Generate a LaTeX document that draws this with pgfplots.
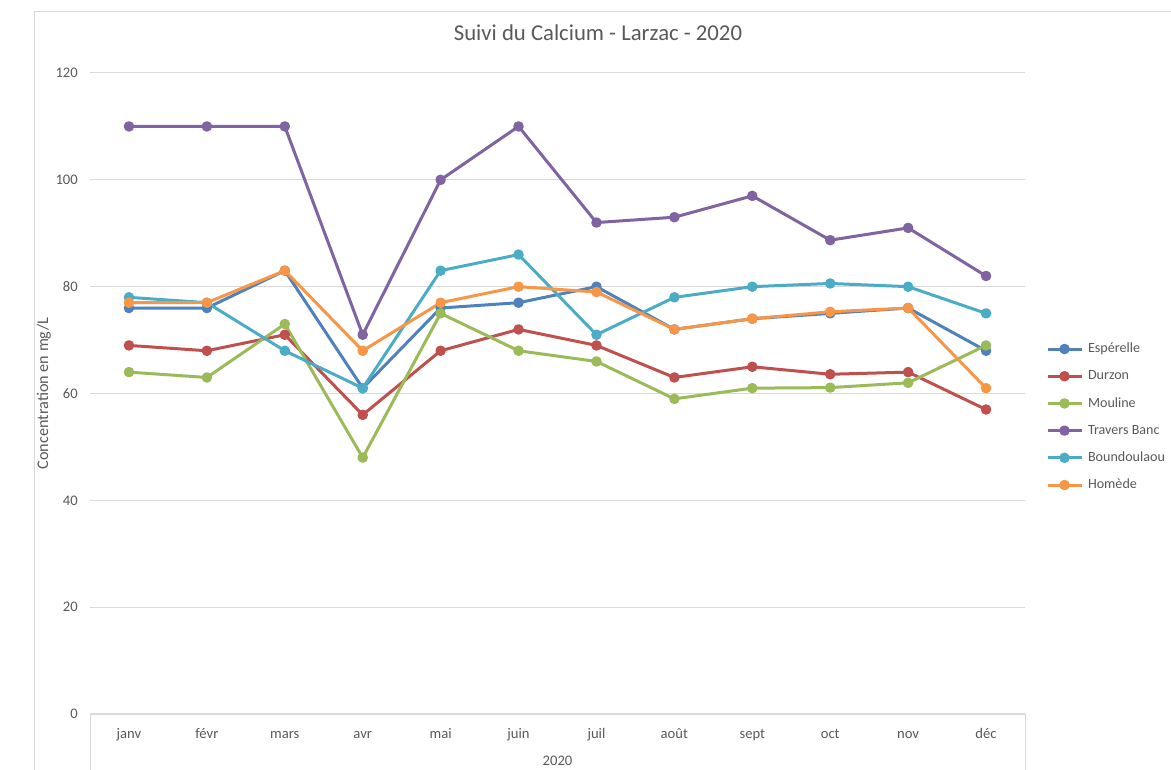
\documentclass[border=0pt]{standalone}
\usepackage{pgfplots}
\pgfplotsset{compat=1.18}
\usepackage{fontspec}
\setmainfont{Carlito}
\definecolor{cA}{HTML}{4F81BD}
\definecolor{cB}{HTML}{C0504D}
\definecolor{cC}{HTML}{9BBB59}
\definecolor{cD}{HTML}{8064A2}
\definecolor{cE}{HTML}{4BACC6}
\definecolor{cF}{HTML}{F79646}
\definecolor{txt}{HTML}{595959}
\definecolor{gridc}{HTML}{D9D9D9}
\begin{document}
\begin{tikzpicture}
\path[use as bounding box] (-67.5bp,-42bp) rectangle (810.75bp,535.5bp);
\draw[gridc, line width=0.75bp] (-41.25bp,-45bp) -- (-41.25bp,526.5bp) -- (815bp,526.5bp);
\begin{axis}[
  at={(0,0)}, anchor=south west,
  scale only axis, width=701.25bp, height=480.75bp,
  xmin=-0.5, xmax=11.5, ymin=0, ymax=120,
  ytick={0,20,...,120}, xtick={0,...,11},
  xticklabels={janv,févr,mars,avr,mai,juin,juil,août,sept,oct,nov,déc},
  axis line style={draw=none},
  major tick length=0pt,
  ymajorgrids, grid style={color=gridc, line width=0.75bp},
  tick label style={font=\fontsize{11}{13}\selectfont, text=txt},
  /pgf/number format/assume math mode=true,
  yticklabel style={anchor=east, inner sep=0pt, xshift=-9bp},
  xticklabel style={anchor=base, inner sep=0pt, yshift=-18.5bp},
  title={Suivi du Calcium - Larzac - 2020},
  title style={font=\fontsize{17.1}{19}\selectfont, text=txt, at={(axis description cs:0.5433,1.0499)}, anchor=center, inner sep=0pt},
  ylabel={Concentration en mg/L},
  ylabel style={font=\fontsize{12.2}{14}\selectfont, text=txt, at={(axis description cs:-0.0492,0.5)}, anchor=center, inner sep=0pt},
  xlabel={2020},
  xlabel style={font=\fontsize{11}{13}\selectfont, text=txt, at={(axis description cs:0.5,0)}, anchor=base, inner sep=0pt, yshift=-39bp},
  legend style={at={(axis description cs:1.0225,0.4633)}, anchor=west, draw=none, fill=none,
    inner sep=0pt, outer sep=0pt,
    font=\fontsize{10.6}{13}\selectfont, text=txt, row sep=9.9bp, column sep=3.75bp,
    nodes={inner sep=0pt, text height=8bp, text depth=2.5bp}},
  legend cell align=left,
  legend image code/.code={\draw[mark repeat=2,mark phase=2,#1] plot coordinates {(0bp,0bp)(12.75bp,0bp)(25.5bp,0bp)};},
  every axis plot/.append style={line width=2.25bp, line join=round, mark=*, mark size=2.8bp, mark options={solid, line width=0.75bp}},
  clip=false,
]
\addplot[cA, mark options={fill=cA}] coordinates {(0,76)(1,76)(2,83)(3,61)(4,76)(5,77)(6,80)(7,72)(8,74)(9,75)(10,76)(11,68)};
\addlegendentry{Espérelle}
\addplot[cB, mark options={fill=cB}] coordinates {(0,69)(1,68)(2,71)(3,56)(4,68)(5,72)(6,69)(7,63)(8,65)(9,63.6)(10,64)(11,57)};
\addlegendentry{Durzon}
\addplot[cC, mark options={fill=cC}] coordinates {(0,64)(1,63)(2,73)(3,48)(4,75)(5,68)(6,66)(7,59)(8,61)(9,61.1)(10,62)(11,69)};
\addlegendentry{Mouline}
\addplot[cD, mark options={fill=cD}] coordinates {(0,110)(1,110)(2,110)(3,71)(4,100)(5,110)(6,92)(7,93)(8,97)(9,88.7)(10,91)(11,82)};
\addlegendentry{Travers Banc}
\addplot[cE, mark options={fill=cE}] coordinates {(0,78)(1,77)(2,68)(3,61)(4,83)(5,86)(6,71)(7,78)(8,80)(9,80.6)(10,80)(11,75)};
\addlegendentry{Boundoulaou}
\addplot[cF, mark options={fill=cF}] coordinates {(0,77)(1,77)(2,83)(3,68)(4,77)(5,80)(6,79)(7,72)(8,74)(9,75.3)(10,76)(11,61)};
\addlegendentry{Homède}
\end{axis}
\draw[gridc, line width=0.75bp] (0bp,-45bp) -- (0bp,0bp) -- (701.25bp,0bp) -- (701.25bp,-45bp);
\end{tikzpicture}
\end{document}
